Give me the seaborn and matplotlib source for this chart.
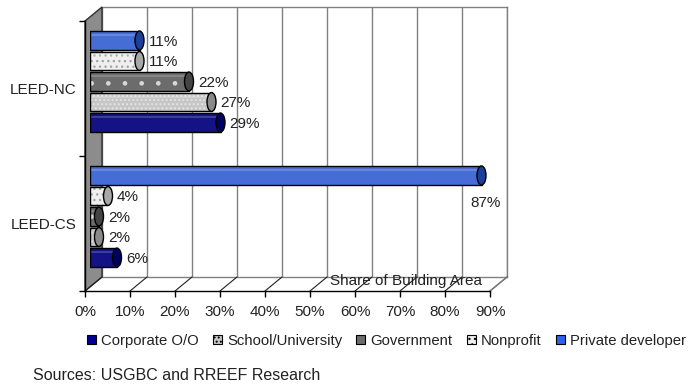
import numpy as np
import pandas as pd
import matplotlib
matplotlib.use("Agg")
import matplotlib.pyplot as plt
import seaborn as sns
from matplotlib.patches import Polygon, Patch, Ellipse
from matplotlib.lines import Line2D
from matplotlib.colors import to_rgba

# ---------------- data ----------------
programs = ["LEED-NC", "LEED-CS"]
owners = ["Corporate O/O", "School/University", "Government", "Nonprofit", "Private developer"]
corporate = [29, 6]
school = [27, 2]
government = [22, 2]
nonprofit = [11, 4]
private = [11, 87]
x_ticks = [0, 10, 20, 30, 40, 50, 60, 70, 80, 90]
x_tick_labels = ["0%", "10%", "20%", "30%", "40%", "50%", "60%", "70%", "80%", "90%"]
axis_title = "Share of Building Area"
source_text = "Sources: USGBC and RREEF Research"

values = {"Corporate O/O": corporate, "School/University": school,
          "Government": government, "Nonprofit": nonprofit,
          "Private developer": private}
rows = []
for o in owners:
    for p, v in zip(programs, values[o]):
        rows.append({"program": p, "owner": o, "share": v})
df = pd.DataFrame(rows)

# styles
face = {"Corporate O/O": "#000099", "School/University": "#c6c6c6",
        "Government": "#6c6c6c", "Nonprofit": "#efefef",
        "Private developer": "#2e62ee"}
cap = {"Corporate O/O": "#000060", "School/University": "#8a8a8a",
       "Government": "#444444", "Nonprofit": "#a8a8a8",
       "Private developer": "#1d3f9c"}
hatch = {"Corporate O/O": None, "School/University": "....",
         "Government": ".", "Nonprofit": "...",
         "Private developer": None}
hatch_col = {"Corporate O/O": "black", "School/University": "#e6e6e6",
             "Government": "#d8d8d8", "Nonprofit": "#a0a0a0",
             "Private developer": "black"}

sns.set_theme(style="white")
plt.rcParams["font.family"] = ["Liberation Sans", "DejaVu Sans"]
plt.rcParams["hatch.linewidth"] = 0.9
FS = 11
TXT = "#222222"

W, H = 694, 387
fig = plt.figure(figsize=(W / 100, H / 100), dpi=100)


def rect(x0, ytop, w, h):
    return [x0 / W, 1 - (ytop + h) / H, w / W, h / H]


def fp(x, y):
    return (x / W, 1 - y / H)


# geometry (pixels)
FX, FY = 85, 21        # front plane top-left
PW, PH = 405, 270
DX, DY = 17, 14        # depth offset

# back wall
axb = fig.add_axes(rect(FX + DX, FY - DY, PW, PH), zorder=0)
axb.set_xlim(0, 90)
axb.set_ylim(0, 1)
axb.set_xticks(x_ticks)
axb.set_yticks([])
axb.tick_params(length=0, labelbottom=False)
axb.grid(axis="x", color="#808080", lw=1.0)
for s in ["top", "right", "bottom"]:
    axb.spines[s].set_color("#808080")
    axb.spines[s].set_linewidth(1.0)
axb.spines["left"].set_visible(False)
axb.set_facecolor("white")

# left wall
wall = Polygon([fp(FX, FY), fp(FX + DX, FY - DY), fp(FX + DX, FY + PH - DY),
                fp(FX, FY + PH)], closed=True, transform=fig.transFigure,
               facecolor="#8c8c8c", edgecolor="#303030", lw=1.0, zorder=0.5)
fig.patches.append(wall)
# floor diagonals
for k in range(len(x_ticks)):
    xf = FX + k * PW / 9
    fig.add_artist(Line2D([xf / W, (xf + DX) / W],
                          [1 - (FY + PH) / H, 1 - (FY + PH - DY) / H],
                          transform=fig.transFigure, color="#202020", lw=0.8,
                          zorder=0.6))
fig.add_artist(Line2D([(FX + PW) / W, (FX + PW + DX) / W],
                      [1 - (FY + PH) / H, 1 - (FY + PH - DY) / H],
                      transform=fig.transFigure, color="#808080", lw=1.0, zorder=0.6))

# bars (mid depth)
axr = fig.add_axes(rect(FX + 5, FY - 7, PW, PH), zorder=1)
axr.patch.set_alpha(0)
hue_order = owners[::-1]
sns.barplot(data=df, y="program", x="share", hue="owner", order=programs,
            hue_order=hue_order, orient="h", width=0.76, gap=0.08,
            palette=face, edgecolor="black", linewidth=1.0, legend=False,
            errorbar=None, ax=axr)
axr.set_xlim(0, 90)
axr.set_ylim(1.5, -0.5)
axr.axis("off")

for cont, o in zip(axr.containers, hue_order):
    for bar in cont:
        if hatch[o]:
            bar.set_hatch(hatch[o])
            try:
                bar.set_hatchcolor(hatch_col[o])
            except AttributeError:
                bar._hatch_color = to_rgba(hatch_col[o])
        w = bar.get_width()
        y = bar.get_y()
        h = bar.get_height()
        yc = y + h / 2
        # cylinder end cap
        axr.add_patch(Ellipse((w, yc), 2.0, h, facecolor=cap[o],
                              edgecolor="black", lw=1.0, zorder=3))
        # highlight stripe
        axr.plot([0.4, max(w - 1.0, 0.4)], [yc - h * 0.28, yc - h * 0.28],
                 color="white", alpha=0.18, lw=1.5, zorder=2.5)
        label = f"{int(round(w))}%"
        if w > 80:
            axr.annotate(label, (w, yc), xytext=(14, -20), textcoords="offset points",
                         ha="right", va="center", fontsize=FS, color=TXT)
        else:
            axr.annotate(label, (w, yc), xytext=(6.5, -1), textcoords="offset points",
                         ha="left", va="center", fontsize=FS, color=TXT)

# front frame with ticks
axf = fig.add_axes(rect(FX, FY, PW, PH), zorder=2)
axf.patch.set_alpha(0)
axf.set_xlim(0, 90)
axf.set_ylim(1.5, -0.5)
axf.set_xticks(x_ticks)
axf.set_xticklabels(x_tick_labels, fontsize=FS, color=TXT)
axf.set_yticks([0, 1])
axf.set_yticklabels(programs, fontsize=FS, color=TXT)
axf.set_yticks([-0.5, 0.5, 1.5], minor=True)
axf.tick_params(axis="y", which="major", length=0, pad=6)
axf.tick_params(axis="y", which="minor", length=4, width=1, color="black", left=True)
axf.tick_params(axis="x", length=4, width=1, color="black", pad=6, bottom=True)
for s in ["top", "right"]:
    axf.spines[s].set_visible(False)
for s in ["left", "bottom"]:
    axf.spines[s].set_color("black")
    axf.spines[s].set_linewidth(1.0)
axf.grid(False)

fig.text(406 / W, 1 - 281 / H, axis_title, ha="center", va="center",
         fontsize=FS, color=TXT, zorder=5)

# legend
handles = []
for o in owners:
    hp = Patch(facecolor=face[o], edgecolor="black", lw=0.8,
               hatch=hatch[o] if hatch[o] else None)
    handles.append(hp)
leg = fig.legend(handles, owners, loc="center left",
                 bbox_to_anchor=(87 / W, 1 - 341 / H), ncol=5, frameon=False,
                 fontsize=10.7, handlelength=0.6, handleheight=0.6,
                 handletextpad=0.35, columnspacing=0.95, borderaxespad=0,
                 borderpad=0)
for t in leg.get_texts():
    t.set_color(TXT)

fig.text(33 / W, 1 - 376 / H, source_text, ha="left", va="center",
         fontsize=11.5, color=TXT)

fig.savefig("out.png", dpi=100)
